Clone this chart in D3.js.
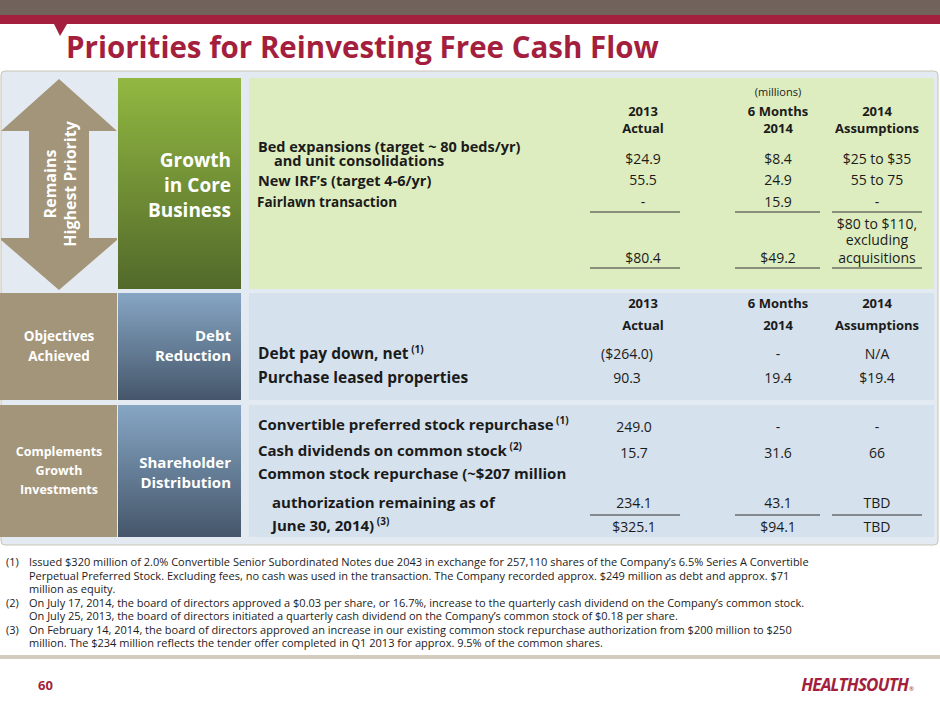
<!DOCTYPE html>
<html>
<head>
<script src="https://d3js.org/d3.v7.min.js"></script>
<style>
body { margin: 0; background: #fff; }
svg text { font-family: "Open Sans", sans-serif; }
</style>
</head>
<body>
<svg id="slide" width="940" height="705"></svg>
<script>
// DATA
var columns = ['2013', '6 Months', '2014']
var growthHeaders = [['2013', '6 Months', '2014'], ['Actual', '2014', 'Assumptions']]
var growthLabels = ['Bed expansions (target ~ 80 beds/yr)', 'New IRF\u2019s (target 4-6/yr)', 'Fairlawn transaction']
var growthValues = [['$24.9', '$8.4', '$25 to $35'], ['55.5', '24.9', '55 to 75'], ['-', '15.9', '-']]
var growthTotals = ['$80.4', '$49.2', 'acquisitions']
var debtLabels = ['Debt pay down, net', 'Purchase leased properties']
var debtNotes = ['(1)', '']
var debtValues = [['($264.0)', '-', 'N/A'], ['90.3', '19.4', '$19.4']]
var shareLabels = ['Convertible preferred stock repurchase', 'Cash dividends on common stock', 'Common stock repurchase (~$207 million']
var shareNotes = ['(1)', '(2)', '']
var shareValues = [['249.0', '-', '-'], ['15.7', '31.6', '66'], ['234.1', '43.1', 'TBD']]
var shareTotals = ['$325.1', '$94.1', 'TBD']
var footnotes = [
  ['(1)', 'Issued $320 million of 2.0% Convertible Senior Subordinated Notes due 2043 in exchange for 257,110 shares of the Company\u2019s 6.5% Series A Convertible', 'Perpetual Preferred Stock. Excluding fees, no cash was used in the transaction. The Company recorded approx. $249 million as debt and approx. $71', 'million as equity.'],
  ['(2)', 'On July 17, 2014, the board of directors approved a $0.03 per share, or 16.7%, increase to the quarterly cash dividend on the Company\u2019s common stock.', 'On July 25, 2013, the board of directors initiated a quarterly cash dividend on the Company\u2019s common stock of $0.18 per share.'],
  ['(3)', 'On February 14, 2014, the board of directors approved an increase in our existing common stock repurchase authorization from $200 million to $250', 'million. The $234 million reflects the tender offer completed in Q1 2013 for approx. 9.5% of the common shares.']
]

var svg = d3.select('#slide')
var red = '#a31f3d'
var ink = '#1b1b1b'

// column centres
var xc = {'2013': 643, '6 Months': 778, '2014': 877}

// HEADER
svg.append('rect').attr('x', 0).attr('y', 0).attr('width', 940).attr('height', 15).attr('fill', '#72625c')
svg.append('rect').attr('x', 0).attr('y', 15).attr('width', 940).attr('height', 9).attr('fill', red)
svg.append('path').attr('d', 'M54,24 L67,24 L60,36 Z').attr('fill', red)
svg.append('text').attr('x', 66).attr('y', 58).attr('fill', red).attr('font-size', 29.5).attr('font-weight', 'bold')
  .text('Priorities for Reinvesting Free Cash Flow')

// PANEL
var defs = svg.append('defs')
function grad(id, a, b) {
  var g = defs.append('linearGradient').attr('id', id).attr('x1', 0).attr('y1', 0).attr('x2', 0).attr('y2', 1)
  g.append('stop').attr('offset', '0%').attr('stop-color', a)
  g.append('stop').attr('offset', '100%').attr('stop-color', b)
}
grad('green', '#92b841', '#52692a')
grad('blue', '#86a6c4', '#45566a')
svg.append('rect').attr('x', 1).attr('y', 71).attr('width', 937).attr('height', 474).attr('rx', 4)
  .attr('fill', '#e4eaf1').attr('stroke', '#c9c3b3')

var sections = [{y: 78, h: 211, light: '#deedbf', g: 'green'}, {y: 293, h: 107, light: '#d5e1ed', g: 'blue'}, {y: 405, h: 132, light: '#d5e1ed', g: 'blue'}]
sections.forEach(function (s, i) {
  svg.append('rect').attr('x', 118).attr('y', s.y).attr('width', 123).attr('height', s.h).attr('fill', 'url(#' + s.g + ')')
  svg.append('rect').attr('x', 249).attr('y', s.y).attr('width', 685).attr('height', s.h).attr('fill', s.light)
  if (i > 0) svg.append('rect').attr('x', 0).attr('y', s.y).attr('width', 117).attr('height', s.h).attr('fill', '#a39579')
})

// double arrow
svg.append('path').attr('d', 'M59,79 L117,131 L89,131 L89,238 L117,238 L117,240 L59,290 L1,240 L1,238 L29,238 L29,131 L1,131 Z').attr('fill', '#a39579')
var at = svg.append('g').attr('transform', 'translate(62,184) rotate(-90)')
at.append('text').attr('text-anchor', 'middle').attr('y', -6).attr('fill', '#fff').attr('font-size', 16).attr('font-weight', 'bold').text('Remains')
at.append('text').attr('text-anchor', 'middle').attr('y', 14).attr('fill', '#fff').attr('font-size', 16).attr('font-weight', 'bold').text('Highest Priority')

function lines(xp, y0, dy, arr, size, anchor) {
  arr.forEach(function (t, i) {
    svg.append('text').attr('x', xp).attr('y', y0 + i * dy).attr('text-anchor', anchor)
      .attr('fill', '#fff').attr('font-size', size).attr('font-weight', 'bold').text(t)
  })
}
lines(231, 167, 25, ['Growth', 'in Core', 'Business'], 19, 'end')
lines(231, 341, 20, ['Debt', 'Reduction'], 15, 'end')
lines(231, 468, 20, ['Shareholder', 'Distribution'], 15, 'end')
lines(59, 341, 20, ['Objectives', 'Achieved'], 13.5, 'middle')
lines(59, 456, 19, ['Complements', 'Growth', 'Investments'], 12.5, 'middle')

function txt(xp, y, t, anchor, opts) {
  opts = opts || {}
  return svg.append('text').attr('x', xp).attr('y', y).attr('text-anchor', anchor || 'middle')
    .attr('fill', ink).attr('font-size', opts.size || 13).attr('font-weight', opts.bold ? 'bold' : 'normal').text(t)
}
function rule(y) {
  [[590, 680], [735, 820], [832, 922]].forEach(function (r) {
    svg.append('line').attr('x1', r[0]).attr('x2', r[1]).attr('y1', y).attr('y2', y).attr('stroke', '#333')
  })
}

// GROWTH SECTION
txt(778, 96, '(millions)', 'middle', {size: 11})
growthHeaders.forEach(function (row, i) {
  row.forEach(function (h, j) { txt(xc[columns[j]], 116 + i * 17, h, 'middle', {bold: true}) })
})
var gy = [164, 185, 207]
txt(258, 152, growthLabels[0], 'start', {bold: true, size: 14.5})
txt(274, 166, 'and unit consolidations', 'start', {bold: true, size: 14.5})
txt(258, 186, growthLabels[1], 'start', {bold: true, size: 14.5})
txt(257, 207, growthLabels[2], 'start', {bold: true, size: 13.5})
growthValues.forEach(function (row, i) {
  row.forEach(function (v, j) { txt(xc[columns[j]], gy[i], v, 'middle', {size: 14}) })
})
rule(212)
txt(877, 229, '$80 to $110,', 'middle', {size: 14})
txt(877, 245, 'excluding', 'middle', {size: 14})
growthTotals.forEach(function (v, j) { txt(xc[columns[j]], 263, v, 'middle', {size: 14}) })
rule(268)

// DEBT SECTION
growthHeaders.forEach(function (row, i) {
  row.forEach(function (h, j) { txt(xc[columns[j]], 308 + i * 22, h, 'middle', {bold: true}) })
})
debtLabels.forEach(function (l, i) {
  var t = txt(258, 359 + i * 24, l, 'start', {bold: true, size: 15.5})
  if (debtNotes[i]) t.append('tspan').attr('dy', -6).attr('font-size', 10).text(' ' + debtNotes[i])
  debtValues[i].forEach(function (v, j) { txt(xc[columns[j]] - (j === 0 ? 16 : 0), 359 + i * 24, v, 'middle', {size: 14}) })
})

// SHAREHOLDER SECTION
var sy = [432, 458, 481]
shareLabels.forEach(function (l, i) {
  var t = txt(258, sy[i] - 2, l, 'start', {bold: true, size: 15})
  if (shareNotes[i]) t.append('tspan').attr('dy', -6).attr('font-size', 10).text(' ' + shareNotes[i])
})
txt(272, 508, 'authorization remaining as of', 'start', {bold: true, size: 15})
var lt = txt(272, 531, 'June 30, 2014)', 'start', {bold: true, size: 15})
lt.append('tspan').attr('dy', -6).attr('font-size', 10).text(' (3)')
var svY = [432, 458, 508]
shareValues.forEach(function (row, i) {
  row.forEach(function (v, j) { txt(xc[columns[j]] - (j === 0 ? 9 : 0), svY[i], v, 'middle', {size: 14}) })
})
rule(515)
shareTotals.forEach(function (v, j) { txt(xc[columns[j]] - (j === 0 ? 9 : 0), 532, v, 'middle', {size: 14}) })

// FOOTNOTES
var fy = 566
footnotes.forEach(function (f) {
  txt(6, fy, f[0], 'start', {size: 11})
  f.slice(1).forEach(function (l, i) {
    txt(29, fy + i * 13.5, l, 'start', {size: 11})
  })
  fy += (f.length - 1) * 13.5
})

// FOOTER
svg.append('line').attr('x1', 0).attr('x2', 940).attr('y1', 657).attr('y2', 657).attr('stroke', '#d3cbbd').attr('stroke-width', 4)
svg.append('text').attr('x', 38).attr('y', 690).attr('fill', red).attr('font-size', 13).attr('font-weight', 'bold').text('60')
svg.append('text').attr('x', 908).attr('y', 691).attr('text-anchor', 'end').attr('fill', red).attr('font-size', 17)
  .attr('font-weight', 'bold').attr('font-style', 'italic').attr('letter-spacing', -0.8).text('HEALTHSOUTH')
svg.append('text').attr('x', 909).attr('y', 691).attr('fill', red).attr('font-size', 6).text('®')
</script>
</body>
</html>
